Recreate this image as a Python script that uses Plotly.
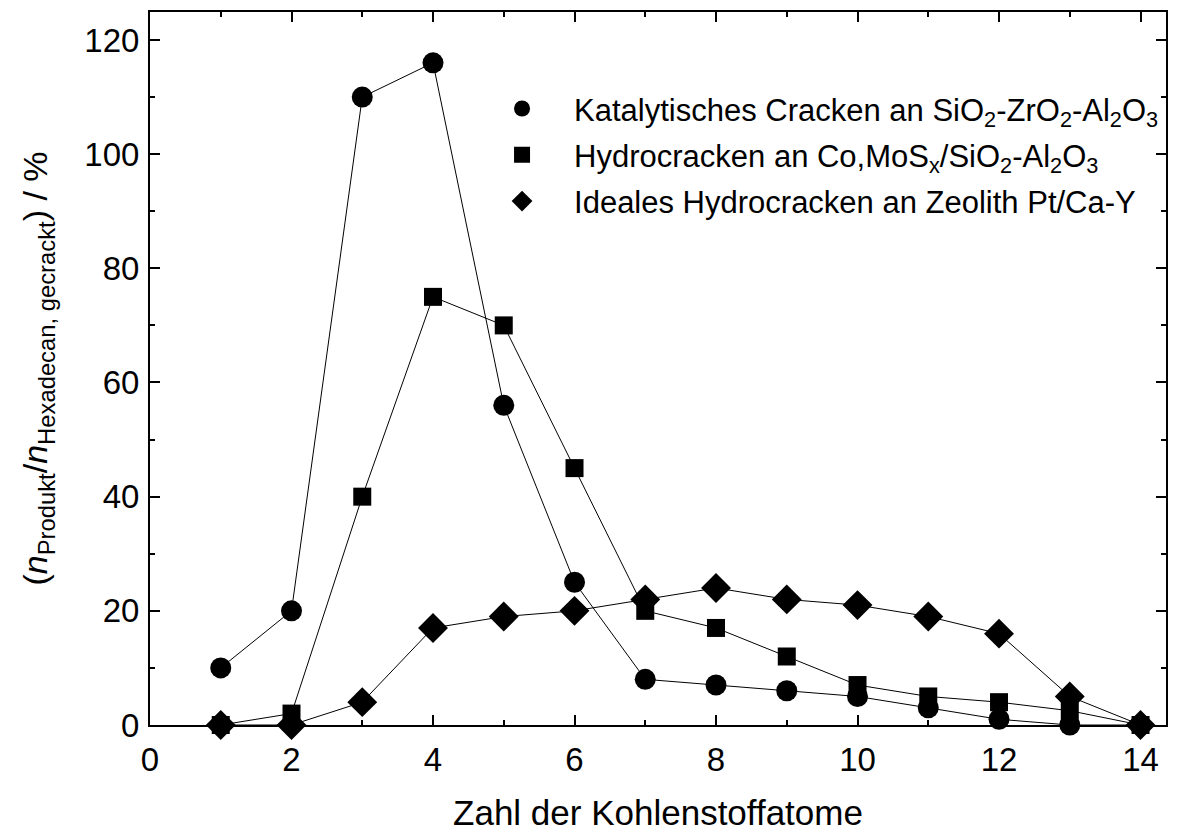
import plotly.graph_objects as go

carbon = [1, 2, 3, 4, 5, 6, 7, 8, 9, 10, 11, 12, 13, 14]
kat_cracken = [10, 20, 110, 116, 56, 25, 8, 7, 6, 5, 3, 1, 0, 0]
hydro_cracken = [0, 2, 40, 75, 70, 45, 20, 17, 12, 7, 5, 4, 2.5, 0]
ideal_hydro = [0, 0, 4, 17, 19, 20, 22, 24, 22, 21, 19, 16, 5, 0]

names = [
    "Katalytisches Cracken an SiO<sub>2</sub>-ZrO<sub>2</sub>-Al<sub>2</sub>O<sub>3</sub>",
    "Hydrocracken an Co,MoS<sub>x</sub>/SiO<sub>2</sub>-Al<sub>2</sub>O<sub>3</sub>",
    "Ideales Hydrocracken an Zeolith Pt/Ca-Y",
]
series = [kat_cracken, hydro_cracken, ideal_hydro]
symbols = ["circle", "square", "diamond"]
sizes = [21, 18, 23]

FONT = "Liberation Sans, Arial, sans-serif"

fig = go.Figure()
for ys in series:
    fig.add_trace(go.Scatter(x=carbon, y=ys, mode="lines", showlegend=False,
                             line=dict(color="black", width=1), cliponaxis=False,
                             hoverinfo="skip"))
for i, (ys, nm, sym, sz) in enumerate(zip(series, names, symbols, sizes)):
    fig.add_trace(go.Scatter(x=carbon, y=ys, mode="markers", name=nm,
                             legendgroup=f"g{i}", cliponaxis=False,
                             marker=dict(symbol=sym, size=sz, color="black",
                                         line=dict(width=0))))

axis_common = dict(
    showgrid=False, zeroline=False, showline=True, linecolor="black", linewidth=2,
    mirror="ticks", ticks="inside", ticklen=10, tickwidth=2, tickcolor="black",
    tickfont=dict(family=FONT, size=33, color="black"),
)
fig.update_xaxes(range=[0, 14.36], dtick=2, tick0=0, ticklabelstandoff=4,
                 minor=dict(dtick=1, ticks="inside", ticklen=5, tickwidth=2, tickcolor="black"),
                 title=dict(text="Zahl der Kohlenstoffatome",
                            font=dict(family=FONT, size=35, color="black"),
                            standoff=24),
                 **axis_common)
fig.update_yaxes(range=[0, 124.9], dtick=20, tick0=0, ticklabelstandoff=2,
                 minor=dict(dtick=10, ticks="inside", ticklen=5, tickwidth=2, tickcolor="black"),
                 title=dict(text="(<i>n</i><sub>Produkt</sub>/<i>n</i><sub>Hexadecan, gecrackt</sub>) / %",
                            font=dict(family=FONT, size=34, color="black"),
                            standoff=26),
                 **axis_common)

fig.update_layout(
    width=1178, height=836,
    margin=dict(l=150, r=11, t=10, b=109),
    plot_bgcolor="white", paper_bgcolor="white",
    showlegend=True,
    legend=dict(x=0.315, y=0.902, xanchor="left", yanchor="top",
                bgcolor="rgba(0,0,0,0)", tracegroupgap=3, itemwidth=94,
                font=dict(family=FONT, size=31, color="black")),
)
fig.write_html("out.html")
